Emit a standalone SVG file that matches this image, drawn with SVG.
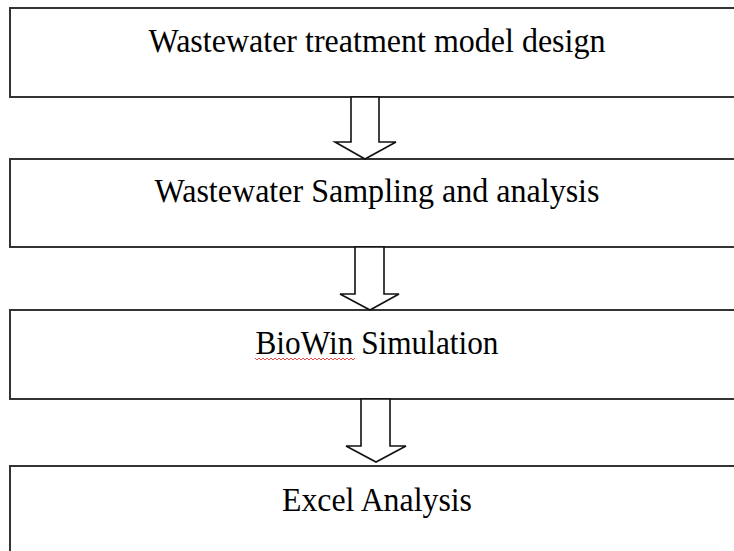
<svg xmlns="http://www.w3.org/2000/svg" width="734" height="551" viewBox="0 0 734 551">
<style>
.box{fill:#fff;stroke:#333;stroke-width:2}
.lbl{font-family:"Liberation Serif","Times New Roman",serif;font-size:34px;fill:#000;text-anchor:middle}
.arr{fill:#fff;stroke:#111;stroke-width:1.6;stroke-linejoin:miter}
</style>
<rect width="734" height="551" fill="#fff"/>
<g id="node1"><rect class="box" x="10" y="8" width="740" height="89"/><text class="lbl" x="377" y="52" textLength="457" lengthAdjust="spacingAndGlyphs">Wastewater treatment model design</text></g>
<g id="node2"><rect class="box" x="10" y="159" width="740" height="88"/><text class="lbl" x="377" y="202" textLength="445" lengthAdjust="spacingAndGlyphs">Wastewater Sampling and analysis</text></g>
<g id="node3"><rect class="box" x="10" y="310" width="740" height="89"/><text class="lbl" x="377" y="354" textLength="243" lengthAdjust="spacingAndGlyphs">BioWin Simulation</text>
<path d="M255,358 l2,2 l2,-2 l2,2 l2,-2 l2,2 l2,-2 l2,2 l2,-2 l2,2 l2,-2 l2,2 l2,-2 l2,2 l2,-2 l2,2 l2,-2 l2,2 l2,-2 l2,2 l2,-2 l2,2 l2,-2 l2,2 l2,-2 l2,2 l2,-2 l2,2 l2,-2 l2,2 l2,-2 l2,2 l2,-2 l2,2 l2,-2 l2,2 l2,-2 l2,2 l2,-2 l2,2 l2,-2 l2,2 l2,-2 l2,2 l2,-2 l2,2 l2,-2 l2,2 l2,-2 l2,2 l2,-2" fill="none" stroke="#e02020" stroke-width="0.8"/></g>
<g id="node4"><rect class="box" x="10" y="466" width="740" height="100"/><text class="lbl" x="377" y="511" textLength="190" lengthAdjust="spacingAndGlyphs">Excel Analysis</text></g>
<g id="connectors">
<path class="arr" d="M351,97 L379,97 L379,142 L396,142 L365,159 L335,142 L351,142 Z"/>
<path class="arr" d="M355,247 L384,247 L384,294 L399,294 L370,310 L340,294 L355,294 Z"/>
<path class="arr" d="M361,399 L390,399 L390,446 L406,446 L376,462 L346,446 L361,446 Z"/>
</g>
</svg>
